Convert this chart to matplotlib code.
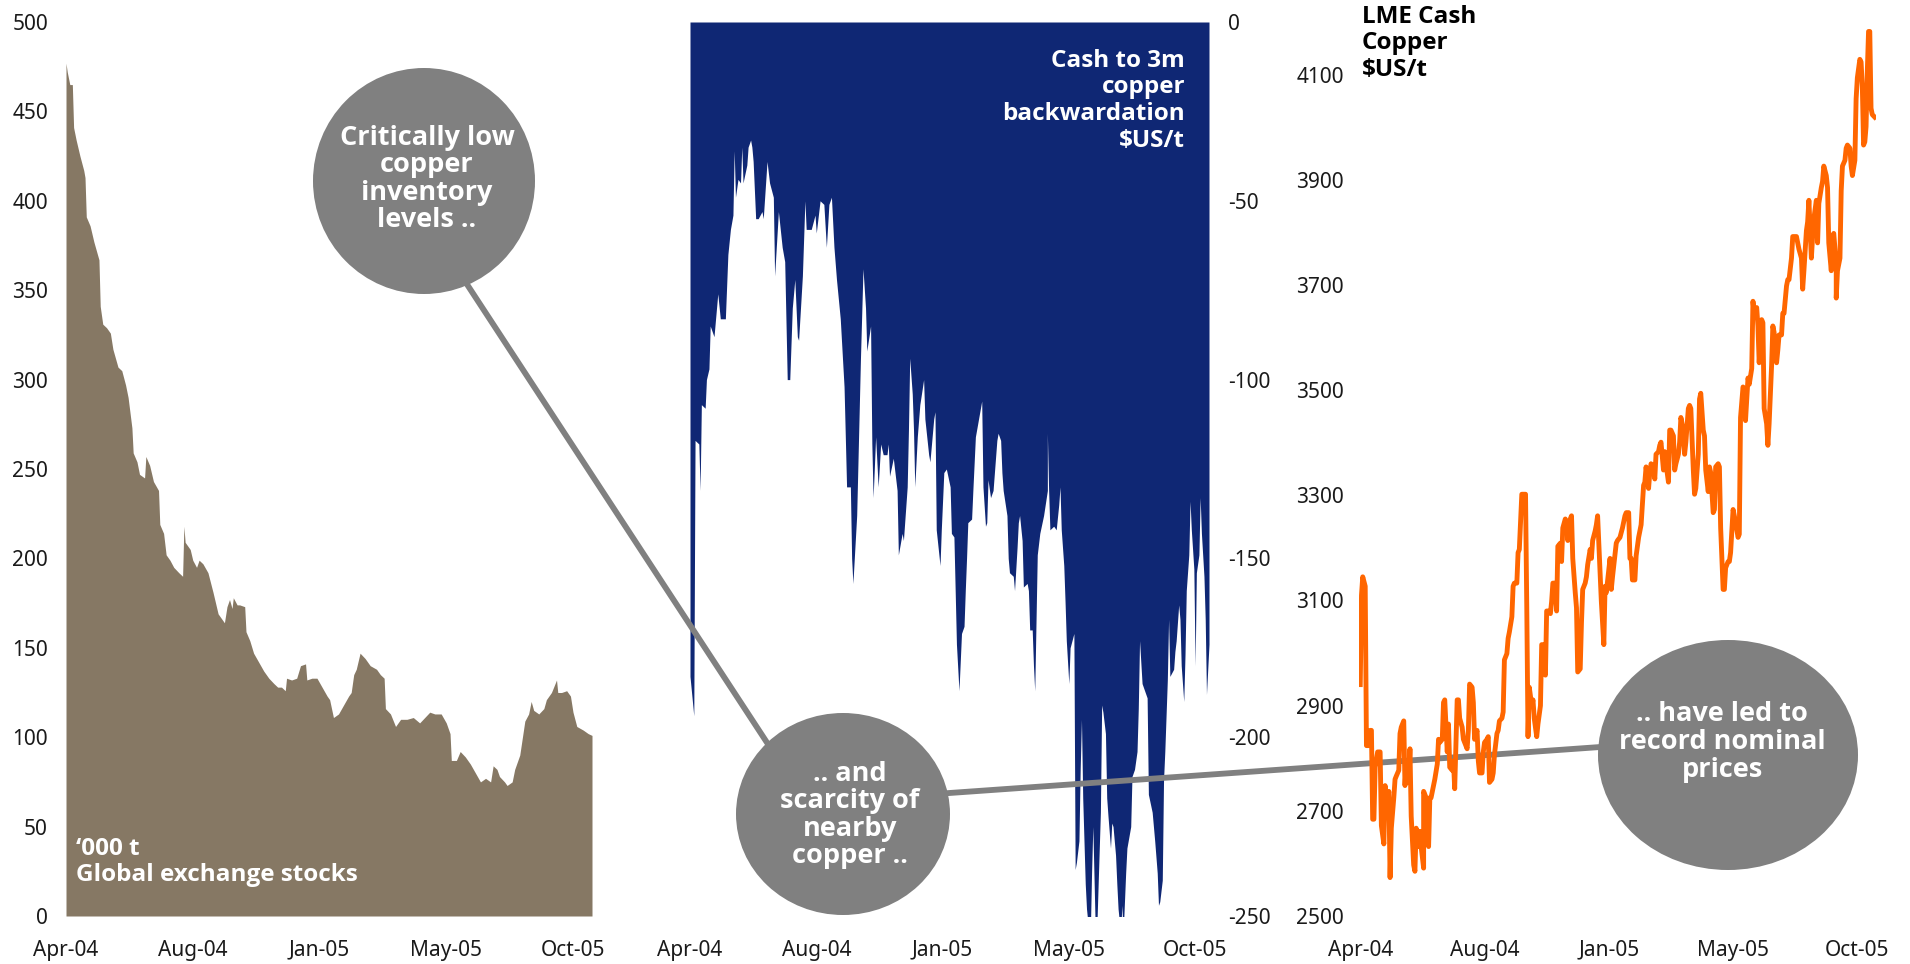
import matplotlib
matplotlib.use("Agg")
import matplotlib.pyplot as plt
from matplotlib.patches import Ellipse

plt.rcParams['font.family'] = ['Noto Sans', 'DejaVu Sans']
plt.rcParams['axes.unicode_minus'] = False
BOLD = ['Open Sans', 'DejaVu Sans']

# x axis is trading days since early April 2004, labelled every 100 days
tick_days = [0, 100, 200, 300, 400]
tick_labels = ['Apr-04', 'Aug-04', 'Jan-05', 'May-05', 'Oct-05']

# Global exchange stocks, '000 t
stock_days = [0, 1, 3, 5, 6, 8, 11, 14, 15, 16, 19, 22, 24, 26, 27, 29, 32, 35, 37, 41,
              44, 47, 49, 52, 53, 56, 58, 62, 63, 66, 69, 73, 74, 77, 79, 82, 85, 89, 92, 93,
              94, 98, 100, 103, 105, 108, 112, 116, 120, 123, 125, 127, 129, 131, 132, 135, 137, 141, 142, 145,
              148, 152, 156, 160, 164, 167, 170, 173, 174, 178, 182, 185, 189, 190, 194, 198, 202, 206, 208, 211,
              215, 219, 223, 225, 227, 229, 232, 236, 240, 245, 248, 251, 252, 256, 260, 264, 269, 274, 279, 283,
              287, 291, 296, 300, 303, 304, 308, 311, 315, 319, 323, 327, 331, 335, 337, 340, 342, 346, 348, 352,
              354, 358, 362, 365, 367, 369, 373, 377, 379, 383, 387, 388, 391, 395, 398, 400, 403, 408, 412, 415]
stock_kt = [477, 472, 465, 465, 441, 434, 425, 417, 413, 391, 386, 377, 372, 367, 341, 331, 329, 326, 317, 307,
            305, 297, 290, 273, 259, 254, 247, 245, 257, 252, 243, 238, 219, 214, 202, 199, 195, 192, 190, 218,
            209, 205, 199, 195, 199, 197, 192, 181, 169, 166, 164, 173, 177, 172, 178, 174, 174, 173, 159, 154,
            147, 142, 137, 133, 130, 128, 128, 126, 133, 132, 133, 140, 141, 132, 133, 133, 128, 123, 121, 111,
            113, 118, 123, 125, 135, 138, 147, 144, 140, 138, 135, 133, 116, 113, 106, 110, 110, 111, 108, 111,
            114, 113, 113, 108, 102, 87, 87, 92, 89, 85, 80, 75, 77, 75, 84, 82, 78, 75, 73, 75,
            82, 90, 109, 113, 120, 115, 113, 116, 121, 125, 132, 125, 125, 126, 123, 114, 106, 104, 102, 101]

# Cash to 3m copper backwardation, $US/t
back_days = [0, 3, 4, 7, 8, 9, 12, 13, 15, 16, 19, 22, 24, 28, 30, 32, 34, 35, 36, 38,
             40, 41, 42, 45, 46, 48, 49, 50, 52, 54, 57, 58, 61, 63, 66, 67, 70, 73, 75, 77,
             79, 81, 83, 85, 86, 89, 91, 92, 96, 99, 100, 103, 106, 108, 110, 112, 114, 116, 119, 122,
             124, 127, 128, 129, 132, 135, 137, 139, 140, 143, 144, 145, 147, 149, 151, 153, 156, 157, 158, 161,
             164, 165, 168, 169, 172, 173, 174, 176, 177, 178, 180, 182, 185, 186, 189, 190, 193, 194, 195, 198,
             199, 201, 203, 206, 207, 209, 211, 213, 215, 217, 218, 219, 220, 223, 224, 226, 228, 230, 231, 232,
             234, 235, 236, 238, 240, 243, 244, 246, 247, 248, 251, 252, 253, 256, 257, 259, 260, 261, 263, 264,
             267, 268, 269, 271, 272, 273, 275, 277, 280, 283, 283, 284, 285, 288, 290, 292, 293, 294, 296, 297,
             298, 300, 301, 304, 305, 306, 308, 309, 310, 311, 313, 314, 316, 317, 318, 319, 321, 322, 325, 326,
             327, 329, 330, 331, 333, 334, 335, 337, 338, 339, 341, 342, 343, 345, 346, 349, 350, 352, 354, 355,
             356, 358, 362, 363, 366, 368, 370, 371, 372, 374, 375, 376, 378, 379, 380, 383, 384, 385, 387, 388,
             389, 391, 392, 393, 395, 396, 397, 399, 400, 401, 403, 404, 405, 407, 408, 409, 411]
back_usd = [-183, -194, -117, -118, -131, -107, -108, -100, -97, -85, -88, -76, -83, -83, -65, -58, -54, -36, -49, -44,
            -45, -35, -45, -40, -35, -33, -35, -39, -55, -55, -53, -55, -39, -45, -49, -71, -53, -63, -67, -100,
            -100, -80, -72, -88, -89, -71, -50, -58, -58, -54, -59, -50, -51, -63, -51, -49, -63, -72, -83, -102,
            -130, -130, -150, -157, -138, -94, -69, -80, -92, -85, -118, -133, -116, -130, -118, -121, -121, -118, -127, -122,
            -131, -149, -143, -145, -130, -114, -94, -104, -114, -130, -116, -107, -100, -111, -121, -123, -111, -109, -142, -152,
            -142, -126, -125, -130, -143, -144, -174, -187, -171, -169, -159, -150, -140, -139, -131, -116, -112, -108, -106, -130,
            -141, -140, -128, -133, -131, -117, -115, -117, -126, -131, -138, -150, -154, -155, -159, -147, -140, -138, -145, -158,
            -157, -159, -170, -170, -180, -187, -149, -143, -138, -131, -115, -131, -142, -141, -142, -135, -130, -142, -152, -162,
            -173, -185, -175, -171, -237, -235, -229, -209, -195, -217, -241, -248, -255, -255, -238, -225, -255, -255, -221, -191,
            -193, -199, -217, -222, -231, -224, -225, -233, -241, -248, -255, -247, -255, -238, -231, -225, -211, -209, -204, -192,
            -173, -185, -189, -216, -221, -229, -238, -247, -246, -240, -212, -204, -184, -167, -183, -181, -176, -173, -163, -167,
            -180, -190, -177, -159, -149, -134, -142, -153, -180, -154, -149, -133, -143, -155, -167, -188, -174]

# LME cash copper, $US/t
price_days = [0, 1, 2, 4, 5, 7, 8, 9, 10, 11, 12, 14, 16, 17, 19, 20, 21, 23, 24, 25,
              27, 28, 29, 31, 32, 33, 35, 36, 37, 39, 40, 41, 43, 44, 45, 47, 48, 49, 51, 51,
              53, 55, 56, 57, 60, 62, 63, 64, 66, 67, 68, 70, 71, 72, 74, 75, 76, 78, 79, 80,
              82, 83, 84, 86, 87, 88, 90, 91, 92, 94, 95, 96, 98, 99, 100, 102, 103, 104, 106, 107,
              108, 110, 111, 112, 114, 115, 116, 118, 119, 120, 122, 123, 124, 126, 127, 128, 130, 131, 133, 134,
              135, 136, 138, 139, 140, 142, 143, 145, 146, 147, 149, 150, 151, 153, 154, 155, 157, 158, 159, 161,
              162, 163, 165, 166, 167, 169, 170, 171, 173, 174, 175, 177, 178, 179, 181, 182, 183, 185, 186, 187,
              189, 190, 191, 194, 196, 197, 198, 201, 202, 203, 206, 207, 209, 211, 213, 214, 216, 217, 218, 219,
              221, 222, 224, 225, 226, 228, 229, 230, 232, 233, 234, 236, 237, 238, 240, 241, 242, 244, 245, 246,
              248, 249, 250, 252, 253, 254, 256, 257, 258, 260, 261, 262, 264, 265, 266, 268, 269, 270, 272, 273,
              274, 276, 277, 278, 280, 281, 282, 284, 285, 286, 288, 289, 290, 292, 293, 294, 296, 297, 298, 300,
              301, 302, 304, 305, 306, 308, 309, 310, 312, 313, 315, 316, 317, 319, 320, 321, 323, 324, 325, 327,
              328, 329, 331, 332, 333, 335, 336, 337, 339, 340, 341, 343, 344, 345, 347, 348, 349, 351, 352, 353,
              355, 356, 357, 359, 360, 361, 363, 364, 365, 367, 368, 369, 371, 372, 373, 375, 376, 377, 379, 380,
              381, 383, 383, 384, 386, 387, 388, 390, 391, 392, 394, 395, 396, 398, 399, 400, 402, 403, 404, 405,
              406, 407, 408, 409, 410, 411, 412, 414]
price_usd = [2940, 3110, 3145, 3127, 2824, 2824, 2853, 2853, 2684, 2684, 2783, 2812, 2812, 2672, 2637, 2748, 2702, 2737, 2573, 2667,
             2725, 2760, 2766, 2777, 2847, 2859, 2871, 2748, 2789, 2754, 2818, 2690, 2597, 2585, 2667, 2632, 2661, 2632, 2591, 2737,
             2725, 2632, 2725, 2725, 2760, 2789, 2836, 2830, 2836, 2906, 2911, 2812, 2865, 2783, 2777, 2795, 2742, 2911, 2911, 2876,
             2859, 2836, 2830, 2818, 2853, 2941, 2935, 2906, 2836, 2853, 2795, 2772, 2772, 2812, 2830, 2836, 2841, 2754, 2760, 2772,
             2807, 2847, 2853, 2871, 2876, 2888, 2987, 2999, 3028, 3040, 3069, 3127, 3133, 3133, 3191, 3197, 3302, 3302, 3302, 3086,
             2841, 2935, 2900, 2911, 2876, 2841, 2865, 2900, 3016, 3016, 2958, 3080, 3080, 3075, 3098, 3133, 3133, 3080, 3203, 3209,
             3174, 3238, 3255, 3249, 3214, 3255, 3261, 3180, 3115, 3086, 2964, 2970, 3057, 3121, 3133, 3145, 3168, 3197, 3180, 3214,
             3232, 3244, 3261, 3098, 3016, 3127, 3115, 3180, 3121, 3145, 3209, 3214, 3220, 3238, 3261, 3267, 3267, 3180, 3180, 3139,
             3139, 3185, 3220, 3232, 3244, 3319, 3325, 3354, 3313, 3343, 3360, 3354, 3331, 3378, 3383, 3395, 3401, 3348, 3383, 3360,
             3325, 3424, 3424, 3413, 3348, 3360, 3378, 3401, 3448, 3424, 3378, 3401, 3465, 3471, 3465, 3348, 3302, 3313, 3378, 3483,
             3494, 3424, 3413, 3348, 3307, 3354, 3343, 3267, 3273, 3354, 3360, 3354, 3238, 3121, 3121, 3162, 3174, 3174, 3191, 3273,
             3261, 3249, 3220, 3226, 3448, 3506, 3500, 3442, 3523, 3511, 3541, 3669, 3645, 3657, 3622, 3552, 3634, 3628, 3465, 3436,
             3395, 3436, 3547, 3622, 3610, 3552, 3576, 3605, 3605, 3646, 3646, 3698, 3710, 3710, 3751, 3792, 3792, 3792, 3780, 3768,
             3751, 3692, 3727, 3803, 3820, 3861, 3751, 3792, 3826, 3861, 3780, 3855, 3885, 3897, 3926, 3908, 3885, 3780, 3727, 3792,
             3798, 3739, 3675, 3727, 3751, 3879, 3926, 3937, 3960, 3966, 3960, 3926, 3908, 3937, 4054, 4094, 4129, 4124, 4077, 3966,
             3972, 4001, 4106, 4182, 4182, 4036, 4024, 4019]

W, H = 1910, 964
fig = plt.figure(figsize=(W / 100, H / 100), dpi=100)


def add_panel(left, right, top=22, bottom=916):
    ax = fig.add_axes([left / W, (H - bottom) / H, (right - left) / W, (bottom - top) / H])
    for s in ax.spines.values():
        s.set_visible(False)
    ax.tick_params(length=0, labelsize=15, colors='#1a1a1a')
    ax.tick_params(axis='x', pad=17)
    ax.set_xticks(tick_days, tick_labels)
    return ax


# stocks
ax1 = add_panel(66, 592)
ax1.fill_between(stock_days, 0, stock_kt, color='#867864', lw=0)
ax1.set_xlim(0, 415)
ax1.set_ylim(0, 500)
ax1.set_yticks(range(0, 501, 50))
ax1.tick_params(axis='y', pad=13)
ax1.text(0.019, 0.06, '\u2018000 t\nGlobal exchange stocks', transform=ax1.transAxes,
         color='white', fontsize=17.5, fontweight='bold', family=BOLD,
         va='center', ha='left', linespacing=1.12)

# backwardation
ax2 = add_panel(690, 1209)
ax2.fill_between(back_days, 0, back_usd, color='#0f2774', lw=0)
ax2.set_xlim(0, 411)
ax2.set_ylim(-250, 0)
ax2.set_yticks(range(-250, 1, 50))
ax2.yaxis.tick_right()
ax2.tick_params(axis='y', pad=14)
ax2.text(0.954, 0.912, 'Cash to 3m\ncopper\nbackwardation\n$US/t', transform=ax2.transAxes,
         color='white', fontsize=17.5, fontweight='bold', family=BOLD, va='center', ha='right',
         multialignment='right', linespacing=1.15)

# overlay for call-out bubbles
ov = fig.add_axes([0, 0, 1, 1], zorder=1)
ov.set_xlim(0, W)
ov.set_ylim(H, 0)
ov.axis('off')
ov.plot([438, 798], [240, 790], color='#808080', lw=4.2, solid_capstyle='butt')
ov.plot([900, 1650], [796.5, 743.5], color='#808080', lw=4.2, solid_capstyle='butt')
bubbles = [((424, 181), 222, 226, (427, 179), 'Critically low\ncopper\ninventory\nlevels ..'),
           ((843, 814), 214, 202, (850, 815), '.. and\nscarcity of\nnearby\ncopper ..'),
           ((1728, 755), 260, 230, (1722, 742), '.. have led to\nrecord nominal\nprices')]
for c, w, h, tpos, txt in bubbles:
    ov.add_patch(Ellipse(c, w, h, color='#808080', lw=0))
    ov.text(tpos[0], tpos[1], txt, color='white', fontsize=19.5, fontweight='bold', family=BOLD,
            ha='center', va='center', linespacing=1.08)

# LME price
ax3 = add_panel(1359, 1876)
ax3.set_zorder(2)
ax3.patch.set_visible(False)
ax3.plot(price_days, price_usd, color='#ff6600', lw=3.5)
ax3.set_xlim(-1, 415)
ax3.set_ylim(2500, 4200)
ax3.set_yticks(range(2500, 4101, 200))
ax3.tick_params(axis='y', pad=11)
ax3.text(0.006, 0.976, 'LME Cash\nCopper\n$US/t', transform=ax3.transAxes,
         color='black', fontsize=17.5, fontweight='bold', family=BOLD,
         va='center', ha='left', linespacing=1.15)

fig.savefig('out.png', dpi=100)
